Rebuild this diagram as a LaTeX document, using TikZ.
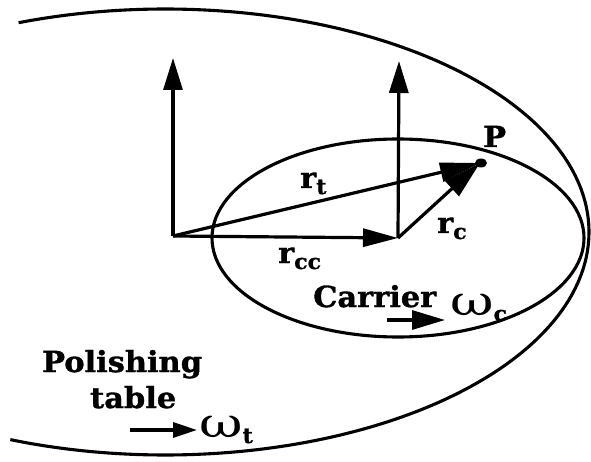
\documentclass[tikz,border=0pt]{standalone}
\usepackage{fontspec}
\setmainfont{DejaVu Serif}
\newfontfamily\lblfont{DejaVu Serif}[FakeStretch=1.05,FakeBold=1.2]
\newfontfamily\omfont{DejaVu Serif}[FakeStretch=1.3]
\usetikzlibrary{arrows.meta}
\newcommand\mysub[2]{#1\raisebox{-6pt}{\fontsize{21}{21}\selectfont #2}}
\newcommand\myomega[1]{{\omfont\mdseries\fontsize{41}{41}\selectfont ω}\raisebox{-6pt}{\fontsize{21}{21}\selectfont\bfseries #1}}
\tikzset{
  curve/.style={line width=3.1pt},
  vecline/.style={line width=3.2pt},
  lbl/.style={inner sep=0pt, anchor=base west, font=\lblfont\bfseries\fontsize{29}{31}\selectfont},
}
\begin{document}
\begin{tikzpicture}[x=1pt,y=-1pt]
\useasboundingbox (0,0) rectangle (591,462);
% polishing table (partial ellipse)
\draw[curve] plot[domain=-110.2:111.4, samples=200, smooth] ({165+424*cos(\x)},{232+223*sin(\x)});
% carrier
\draw[curve] (398,238) ellipse [x radius=186, y radius=99];
% points
\coordinate (O) at (173,236);
\coordinate (C) at (398,238);
\coordinate (P) at (480,163);
\coordinate (Ot) at (173,58);
\coordinate (Ct) at (399,61);
% vectors
\draw[vecline,-{Triangle[length=32pt,width=19pt]}] (O) -- (Ot);
\draw[vecline,-{Triangle[length=32pt,width=19pt]}] (C) -- (Ct);
\draw[vecline,-{Triangle[length=35pt,width=18pt]}] (O) -- (C);
\draw[vecline,-{Triangle[length=40pt,width=19pt]}] (O) -- (P);
\draw[vecline,-{Triangle[length=38pt,width=20pt]}] (C) -- (P);
\fill (481,163) ellipse [x radius=6, y radius=4.5];
% labels
\node[lbl] (lP) at (483,147) {P};
\node[lbl] (lrt) at (300,188) {\mysub{r}{t}};
\node[lbl] (lrcc) at (278,263) {\mysub{r}{cc}};
\node[lbl] (lrc) at (437,233) {\mysub{r}{c}};
\node[lbl] (lcar) at (313,307) {Carrier};
\node[lbl] (lwc) at (450,315) {\myomega{c}};
\coordinate (wca) at (387,320);
\coordinate (wcb) at (445,320);
\draw[vecline,-{Triangle[length=33pt,width=19pt]}] (wca) -- (wcb);
\node[lbl] (lpol) at (42,372) {Polishing};
\node[lbl] (ltab) at (90,408) {table};
\coordinate (wta) at (130,430);
\coordinate (wtb) at (197,430);
\draw[vecline,-{Triangle[length=24pt,width=15pt]}] (wta) -- (wtb);
\node[lbl] (lwt) at (199,437) {\myomega{t}};
\end{tikzpicture}
\end{document}
